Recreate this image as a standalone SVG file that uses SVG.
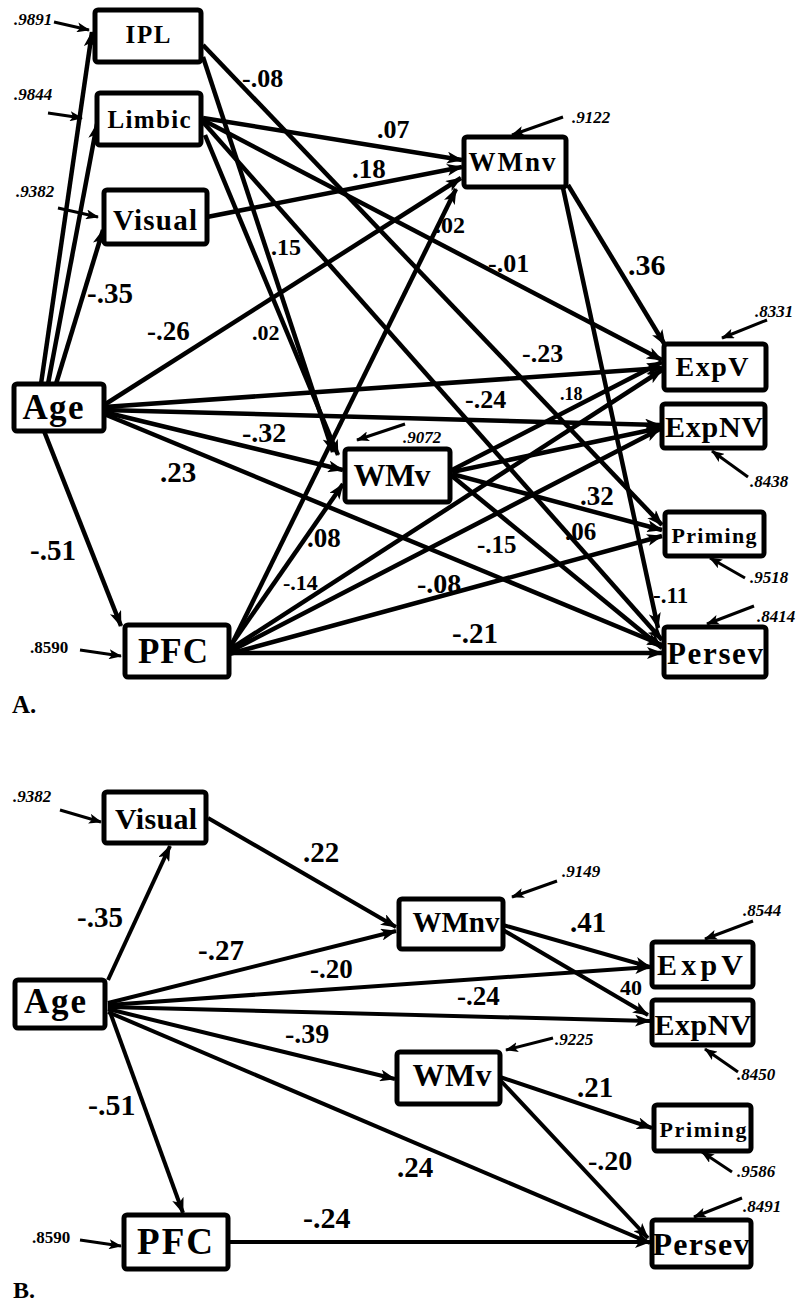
<svg xmlns="http://www.w3.org/2000/svg" width="805" height="1306" viewBox="0 0 805 1306">
<defs>
<marker id="ah" viewBox="0 0 16 12" refX="15" refY="6" markerWidth="16" markerHeight="12" markerUnits="userSpaceOnUse" orient="auto"><path d="M0,0 L16,6 L0,12 L4,6 z" fill="#000"/></marker>
<marker id="ahs" viewBox="0 0 13 10" refX="12" refY="5" markerWidth="13" markerHeight="10" markerUnits="userSpaceOnUse" orient="auto"><path d="M0,0 L13,5 L0,10 L3,5 z" fill="#000"/></marker>
<style>
text{font-family:"Liberation Serif","Times New Roman",serif;font-weight:bold;fill:#000}
.n rect{fill:#fff;stroke:#000;stroke-width:5}
.n text{text-anchor:middle}
.e line{stroke:#000;stroke-width:4.5;marker-end:url(#ah)}
.b line{stroke:#000;stroke-width:4;marker-end:url(#ah)}
.r line{stroke:#000;stroke-width:3;marker-end:url(#ahs)}
.ri{font-style:italic;font-size:17px}
.ru{font-size:17px}
</style>
</defs>

<!-- ===== Panel A connectors ===== -->
<g id="edges-A" class="e">
<line x1="41" y1="384" x2="92" y2="32"/>
<line x1="48" y1="384" x2="97" y2="124"/>
<line x1="56" y1="384" x2="103" y2="230"/>
<line x1="104" y1="405" x2="461" y2="178"/>
<line x1="104" y1="407" x2="662" y2="368"/>
<line x1="104" y1="410" x2="660" y2="425"/>
<line x1="104" y1="412" x2="343" y2="470"/>
<line x1="104" y1="414" x2="662" y2="645"/>
<line x1="44" y1="431" x2="121" y2="626"/>
<line x1="229" y1="650" x2="456" y2="189"/>
<line x1="229" y1="648" x2="343" y2="484"/>
<line x1="229" y1="650" x2="662" y2="370"/>
<line x1="229" y1="652" x2="660" y2="429"/>
<line x1="229" y1="654" x2="662" y2="536"/>
<line x1="229" y1="653" x2="662" y2="653"/>
<line x1="203" y1="57" x2="333" y2="452"/>
<line x1="205" y1="135" x2="338" y2="455"/>
<line x1="203" y1="45" x2="662" y2="525"/>
<line x1="203" y1="118" x2="462" y2="160"/>
<line x1="203" y1="120" x2="662" y2="360"/>
<line x1="203" y1="122" x2="662" y2="640"/>
<line x1="207" y1="217" x2="462" y2="167"/>
<line x1="568" y1="185" x2="665" y2="345"/>
<line x1="563" y1="188" x2="658" y2="628"/>
<line x1="452" y1="470" x2="662" y2="362"/>
<line x1="452" y1="472" x2="660" y2="428"/>
<line x1="452" y1="474" x2="662" y2="530"/>
<line x1="452" y1="476" x2="662" y2="648"/>
</g>

<!-- residual arrows A -->
<g id="resid-A" class="r">
<line x1="54" y1="22" x2="89" y2="30"/>
<line x1="48" y1="113" x2="82" y2="118"/>
<line x1="58" y1="208" x2="98" y2="217"/>
<line x1="80" y1="650" x2="121" y2="656"/>
<line x1="563" y1="117" x2="512" y2="135"/>
<line x1="767" y1="320" x2="722" y2="338"/>
<line x1="748" y1="477" x2="712" y2="451"/>
<line x1="405" y1="424" x2="357" y2="440"/>
<line x1="745" y1="578" x2="710" y2="558"/>
<line x1="754" y1="606" x2="707" y2="624"/>
</g>

<!-- ===== Panel A nodes ===== -->
<g id="A-IPL" class="n"><rect x="95" y="10" width="106" height="52" rx="3"/><text x="148" y="43" font-size="25" textLength="45">IPL</text></g>
<g id="A-Limbic" class="n"><rect x="97" y="93" width="104" height="52" rx="3"/><text x="149" y="128" font-size="25" textLength="83">Limbic</text></g>
<g id="A-Visual" class="n"><rect x="104" y="190" width="103" height="54" rx="3"/><text x="155" y="230" font-size="29" textLength="84">Visual</text></g>
<g id="A-Age" class="n"><rect x="14" y="384" width="90" height="47" rx="3"/><text x="53" y="419" font-size="35" textLength="61">Age</text></g>
<g id="A-PFC" class="n"><rect x="125" y="625" width="104" height="52" rx="3"/><text x="173" y="663" font-size="35" textLength="70">PFC</text></g>
<g id="A-WMnv" class="n"><rect x="464" y="137" width="102" height="50" rx="3"/><text x="512" y="171" font-size="27" textLength="87">WMnv</text></g>
<g id="A-WMv" class="n"><rect x="345" y="449" width="105" height="53" rx="3"/><text x="392" y="486" font-size="32" textLength="77">WMv</text></g>
<g id="A-ExpV" class="n"><rect x="664" y="344" width="102" height="46" rx="3"/><text x="712" y="376" font-size="28" textLength="73">ExpV</text></g>
<g id="A-ExpNV" class="n"><rect x="662" y="404" width="103" height="44" rx="3"/><text x="714" y="437" font-size="30" textLength="98">ExpNV</text></g>
<g id="A-Priming" class="n"><rect x="665" y="512" width="99" height="44" rx="3"/><text x="714" y="543" font-size="22" textLength="85">Priming</text></g>
<g id="A-Persev" class="n"><rect x="664" y="627" width="102" height="50" rx="3"/><text x="715" y="664" font-size="31" textLength="96">Persev</text></g>

<!-- ===== Panel A labels ===== -->
<g id="labels-A">
<text x="242" y="87" font-size="26">-.08</text>
<text x="377" y="138" font-size="26">.07</text>
<text x="352" y="178" font-size="27">.18</text>
<text x="271" y="255" font-size="24">.15</text>
<text x="435" y="233" font-size="24">.02</text>
<text x="488" y="272" font-size="26">-.01</text>
<text x="628" y="275" font-size="30">.36</text>
<text x="87" y="303" font-size="29">-.35</text>
<text x="147" y="340" font-size="27">-.26</text>
<text x="252" y="340" font-size="22">.02</text>
<text x="522" y="362" font-size="26">-.23</text>
<text x="465" y="408" font-size="26">-.24</text>
<text x="560" y="400" font-size="18">.18</text>
<text x="242" y="442" font-size="28">-.32</text>
<text x="160" y="482" font-size="29">.23</text>
<text x="30" y="560" font-size="29">-.51</text>
<text x="307" y="547" font-size="27">.08</text>
<text x="283" y="590" font-size="22">-.14</text>
<text x="580" y="505" font-size="27">.32</text>
<text x="565" y="540" font-size="25">.06</text>
<text x="477" y="553" font-size="25">-.15</text>
<text x="417" y="593" font-size="28">-.08</text>
<text x="653" y="603" font-size="23">-.11</text>
<text x="452" y="643" font-size="29">-.21</text>
<text class="ri" x="14" y="25">.9891</text>
<text class="ri" x="14" y="100">.9844</text>
<text class="ri" x="16" y="197">.9382</text>
<text class="ru" x="30" y="653">.8590</text>
<text class="ri" x="572" y="123">.9122</text>
<text class="ri" x="755" y="317">.8331</text>
<text class="ri" x="750" y="487">.8438</text>
<text class="ri" x="403" y="443" font-size="15">.9072</text>
<text class="ri" x="750" y="583">.9518</text>
<text class="ri" x="757" y="622">.8414</text>
<text x="12" y="713" font-size="25">A.</text>
</g>

<!-- ===== Panel B connectors ===== -->
<g id="edges-B" class="b">
<line x1="108" y1="980" x2="170" y2="846"/>
<line x1="208" y1="818" x2="396" y2="927"/>
<line x1="108" y1="1003" x2="396" y2="931"/>
<line x1="108" y1="1005" x2="650" y2="967"/>
<line x1="108" y1="1007" x2="650" y2="1021"/>
<line x1="108" y1="1009" x2="395" y2="1079"/>
<line x1="108" y1="1012" x2="650" y2="1243"/>
<line x1="110" y1="1012" x2="183" y2="1213"/>
<line x1="229" y1="1242" x2="650" y2="1242"/>
<line x1="503" y1="925" x2="650" y2="967"/>
<line x1="503" y1="930" x2="648" y2="1015"/>
<line x1="500" y1="1077" x2="652" y2="1128"/>
<line x1="500" y1="1080" x2="648" y2="1238"/>
</g>

<g id="resid-B" class="r">
<line x1="60" y1="810" x2="101" y2="822"/>
<line x1="80" y1="1240" x2="121" y2="1246"/>
<line x1="557" y1="881" x2="512" y2="897"/>
<line x1="753" y1="921" x2="705" y2="939"/>
<line x1="738" y1="1072" x2="705" y2="1049"/>
<line x1="553" y1="1038" x2="506" y2="1050"/>
<line x1="732" y1="1172" x2="702" y2="1152"/>
<line x1="742" y1="1198" x2="694" y2="1217"/>
</g>

<!-- ===== Panel B nodes ===== -->
<g id="B-Visual" class="n"><rect x="104" y="792" width="102" height="51" rx="3"/><text x="156" y="829" font-size="30" textLength="82">Visual</text></g>
<g id="B-Age" class="n"><rect x="15" y="980" width="90" height="48" rx="3"/><text x="55" y="1013" font-size="35" textLength="62">Age</text></g>
<g id="B-WMnv" class="n"><rect x="399" y="899" width="104" height="50" rx="3"/><text x="456" y="932" font-size="29" textLength="87">WMnv</text></g>
<g id="B-ExpV" class="n"><rect x="652" y="942" width="101" height="45" rx="3"/><text x="700" y="975" font-size="30" textLength="86">ExpV</text></g>
<g id="B-ExpNV" class="n"><rect x="652" y="1000" width="101" height="45" rx="3"/><text x="703" y="1035" font-size="30" textLength="97">ExpNV</text></g>
<g id="B-WMv" class="n"><rect x="397" y="1052" width="103" height="52" rx="3"/><text x="452" y="1086" font-size="32" textLength="79">WMv</text></g>
<g id="B-Priming" class="n"><rect x="654" y="1105" width="97" height="46" rx="3"/><text x="703" y="1137" font-size="22" textLength="87">Priming</text></g>
<g id="B-Persev" class="n"><rect x="652" y="1220" width="99" height="47" rx="3"/><text x="701" y="1255" font-size="32" textLength="97">Persev</text></g>
<g id="B-PFC" class="n"><rect x="124" y="1215" width="104" height="54" rx="3"/><text x="175" y="1254" font-size="37" textLength="76">PFC</text></g>

<!-- ===== Panel B labels ===== -->
<g id="labels-B">
<text x="303" y="862" font-size="29">.22</text>
<text x="77" y="927" font-size="29">-.35</text>
<text x="198" y="960" font-size="29">-.27</text>
<text x="310" y="978" font-size="27">-.20</text>
<text x="570" y="932" font-size="29">.41</text>
<text x="620" y="995" font-size="22">40</text>
<text x="457" y="1005" font-size="27">-.24</text>
<text x="285" y="1043" font-size="28">-.39</text>
<text x="577" y="1097" font-size="29">.21</text>
<text x="88" y="1115" font-size="30">-.51</text>
<text x="397" y="1177" font-size="29">.24</text>
<text x="588" y="1170" font-size="28">-.20</text>
<text x="303" y="1228" font-size="30">-.24</text>
<text class="ri" x="13" y="802">.9382</text>
<text class="ru" x="32" y="1243">.8590</text>
<text class="ri" x="562" y="877">.9149</text>
<text class="ri" x="743" y="916">.8544</text>
<text class="ri" x="737" y="1080">.8450</text>
<text class="ri" x="555" y="1045">.9225</text>
<text class="ri" x="737" y="1177">.9586</text>
<text class="ri" x="743" y="1212">.8491</text>
<text x="13" y="1298" font-size="24">B.</text>
</g>
</svg>
